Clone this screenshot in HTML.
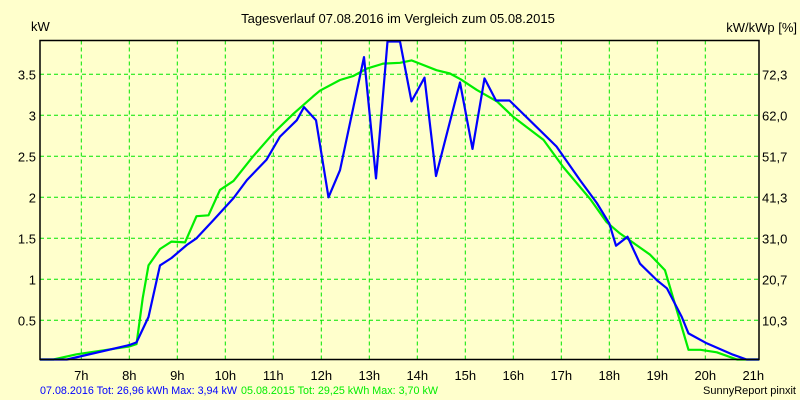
<!DOCTYPE html>
<html><head><meta charset="utf-8"><style>
html,body{margin:0;padding:0;background:#ffffcc;}
svg{display:block;font-family:"Liberation Sans",sans-serif;}
</style></head><body>
<svg id="chart" width="800" height="400" viewBox="0 0 800 400" xmlns="http://www.w3.org/2000/svg">
<rect x="0" y="0" width="800" height="400" fill="#ffffcc"/>
<text x="398" y="23" font-size="13" text-anchor="middle" fill="#000">Tagesverlauf 07.08.2016 im Vergleich zum 05.08.2015</text>
<text x="31" y="31" font-size="13" fill="#000">kW</text>
<text x="797" y="32" font-size="13" text-anchor="end" fill="#000">kW/kWp [%]</text>
<g id="grid"></g>
<g id="series"></g>
<rect x="40" y="40.5" width="719" height="319" fill="none" stroke="#000" stroke-width="1.5"/>
<g id="labels"></g>
<text x="40" y="394" font-size="11" fill="#0000ff" textLength="197" lengthAdjust="spacingAndGlyphs">07.08.2016 Tot: 26,96 kWh Max: 3,94 kW</text>
<text x="241" y="394" font-size="11" fill="#00ee00" textLength="197" lengthAdjust="spacingAndGlyphs">05.08.2015 Tot: 29,25 kWh Max: 3,70 kW</text>
<text x="796" y="394" font-size="11" text-anchor="end" fill="#000">SunnyReport pinxit</text>
</svg>
<script>
const hourTicks = [7,8,9,10,11,12,13,14,15,16,17,18,19,20,21];
const kwTicks = [0.5,1,1.5,2,2.5,3,3.5];
const kwTickLabels = ["0.5","1","1.5","2","2.5","3","3.5"];
const pctTickLabels = ["10,3","20,7","31,0","41,3","51,7","62,0","72,3"];
const blueHours = [6.14,6.7,8.01,8.15,8.4,8.64,8.88,9.2,9.4,9.75,10.17,10.45,10.86,11.14,11.49,11.64,11.89,12.15,12.39,12.89,13.14,13.38,13.64,13.88,14.15,14.39,14.89,15.15,15.4,15.64,15.92,16.9,17.39,17.74,18.0,18.14,18.38,18.64,18.99,19.2,19.51,19.65,20.03,20.58,20.86,21.12];
const blueKw = [0,0.02,0.2,0.23,0.54,1.17,1.26,1.42,1.5,1.72,1.99,2.21,2.46,2.74,2.94,3.1,2.94,2.0,2.33,3.71,2.23,3.94,3.9,3.17,3.46,2.26,3.4,2.59,3.45,3.18,3.18,2.62,2.21,1.93,1.68,1.41,1.52,1.19,0.99,0.89,0.54,0.34,0.22,0.08,0.0,0];
const greenHours = [6.14,6.42,6.9,8.0,8.15,8.28,8.4,8.64,8.88,9.16,9.4,9.65,9.89,10.17,10.58,11.0,11.42,11.83,11.97,12.39,12.67,12.95,13.29,13.64,13.88,14.4,14.68,14.9,15.24,15.66,16.0,16.63,17.04,17.6,17.94,18.22,18.85,19.16,19.65,19.9,20.24,20.66,21.12];
const greenKw = [0,0.02,0.085,0.18,0.21,0.77,1.17,1.37,1.46,1.45,1.77,1.78,2.09,2.2,2.5,2.78,3.02,3.23,3.3,3.43,3.48,3.57,3.63,3.64,3.67,3.55,3.51,3.44,3.31,3.17,2.98,2.7,2.37,1.98,1.7,1.56,1.3,1.11,0.14,0.14,0.11,0.0,0];

const NS="http://www.w3.org/2000/svg";
const X0=40,X1=759,Y0=40.5,Y1=359.5;
function xs(h){return 81.3+(h-7)*48;}
function ys(v){return Math.max(Y0+1,Math.min(Y1,361.3-v*82));}
const grid=document.getElementById('grid'),labels=document.getElementById('labels'),series=document.getElementById('series');
function mk(tag,attrs,parent){const e=document.createElementNS(NS,tag);for(const k in attrs)e.setAttribute(k,attrs[k]);parent.appendChild(e);return e;}
hourTicks.forEach((h,i)=>{
  const x=xs(h);
  if(h<21){const l=mk('line',{x1:x,x2:x,y1:Y0,y2:Y1,stroke:'#00e600','stroke-width':1,'stroke-dasharray':'4,3'},grid);
  
  }
  const t=mk('text',{x:x,y:380,'font-size':13,'text-anchor':'middle',fill:'#000'},labels);
  t.textContent=h+'h';
  
  
});
kwTicks.forEach((v,i)=>{
  const y=361.3-v*82;
  const l=mk('line',{x1:X0,x2:X1,y1:y,y2:y,stroke:'#00e600','stroke-width':1,'stroke-dasharray':'4,3'},grid);
  
  
  const t=mk('text',{x:36,y:y+5,'font-size':13,'text-anchor':'end',fill:'#000'},labels);
  t.textContent=kwTickLabels[i];
  
  
  const t2=mk('text',{x:762,y:y+5,'font-size':13,fill:'#000'},labels);
  t2.textContent=pctTickLabels[i];
  
  
});
function line(hs,vs,color,name){
  const pts=hs.map((h,i)=>xs(h).toFixed(1)+','+ys(vs[i]).toFixed(1)).join(' ');
  const p=mk('polyline',{points:pts,fill:'none',stroke:color,'stroke-width':2.2,'stroke-linejoin':'round'},series);
  
  
}
line(greenHours,greenKw,'#00ee00','series-2015-line');
line(blueHours,blueKw,'#0000ff','series-2016-line');
</script>
</body></html>
